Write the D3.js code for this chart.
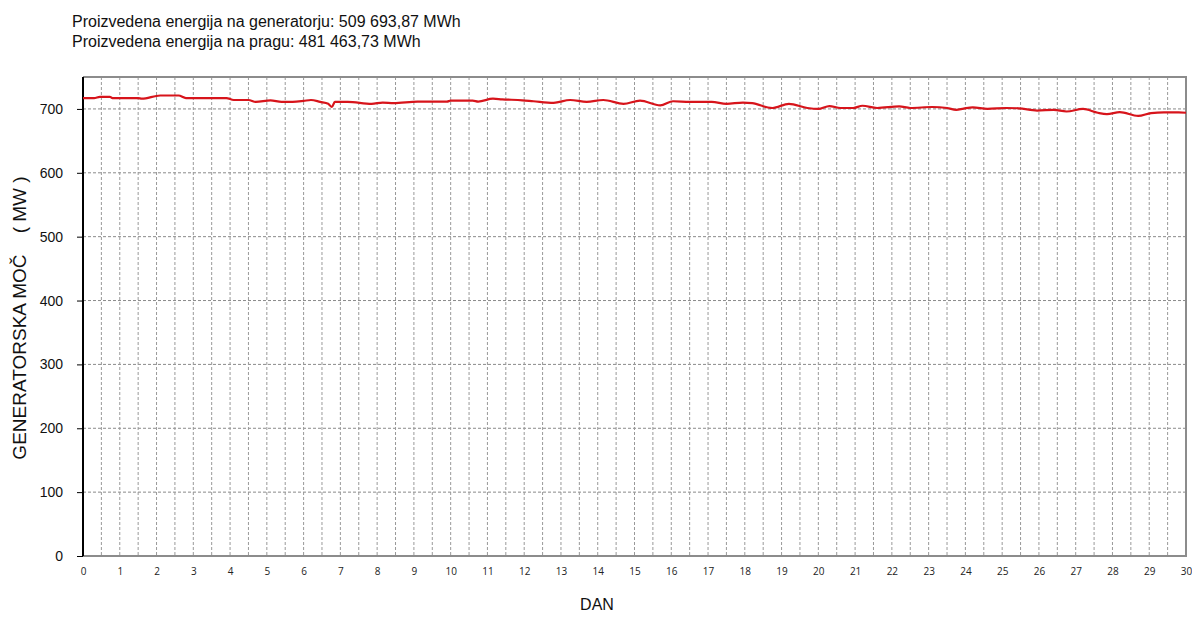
<!DOCTYPE html>
<html>
<head>
<meta charset="utf-8">
<script src="https://cdn.jsdelivr.net/npm/d3@7"></script>
<style>
  body { margin: 0; background: #fff; }
  svg { display: block; }
</style>
</head>
<body>
<svg id="chart" width="1192" height="639"></svg>
<script>
// Title lines
const titleLines = [
  'Proizvedena energija na generatorju: 509 693,87 MWh',
  'Proizvedena energija na pragu: 481 463,73 MWh'
]

// Generator power over the month (day, MW)
const days = [
  0, 0.3, 0.46, 0.73, 0.8, 1.5, 1.6, 2.1, 2.6, 2.8, 3.9, 4.1, 4.5, 4.7, 5.1, 5.4, 5.7, 6.0,
  6.2, 6.45, 6.67, 6.77, 6.85, 7.0, 7.2, 7.85, 8.15, 8.45, 9.1, 9.9, 10.0, 10.6, 10.75,
  11.15, 11.4, 11.95, 12.25, 12.8, 13.25, 13.7, 14.15, 14.7, 15.15, 15.7, 16.05, 16.5,
  17.1, 17.5, 17.95, 18.2, 18.75, 19.2, 19.7, 20.0, 20.3, 20.6, 20.95, 21.2, 21.6, 22.2,
  22.5, 23.1, 23.5, 23.75, 23.95, 24.2, 24.6, 25.1, 25.45, 25.95, 26.4, 26.75, 27.2,
  27.6, 27.85, 28.2, 28.7, 29.05, 29.4, 29.8, 30
]
const power = [
  717, 717, 719, 719, 717, 717, 716, 721, 721, 717, 717, 714, 714, 711, 713.5, 711, 711, 712.5,
  714, 711, 708, 703, 711, 711, 711, 708, 710, 709, 711.5, 711.5, 713, 713, 711.5,
  716, 715, 713.5, 712, 709.5, 714, 711, 714, 708, 713, 705.5, 712, 711,
  711, 708, 710, 709, 701.5, 708, 701.5, 700, 704.5, 701.5, 701.5, 705, 701.5, 704,
  701.5, 703, 701.5, 698.5, 700.5, 702.5, 700, 701.5, 701, 697.5, 698.5, 696, 700,
  694, 692, 695, 689, 693.5, 694.5, 694.5, 694
]

const yTicks = [0, 100, 200, 300, 400, 500, 600, 700]
const xTicks = d3.range(0, 31)
const xGrid = d3.range(0.5, 30.5, 0.5)

const svg = d3.select('#chart')
const margin = { left: 83, right: 6, top: 77, bottom: 83 }
const width = 1192, height = 639

const x = d3.scaleLinear().domain([0, 30]).range([margin.left, width - margin.right])
const y = d3.scaleLinear().domain([0, 750]).range([height - margin.bottom, margin.top])

// ------------------
// Title
// ------------------
svg.selectAll('text.title')
  .data(titleLines)
  .enter()
  .append('text')
  .attr('class', 'title')
  .attr('x', 72)
  .attr('y', (d, i) => 27 + i * 20)
  .attr('font-family', 'Liberation Sans, Arial, sans-serif')
  .attr('font-size', 16)
  .attr('fill', '#111')
  .text(d => d)

// ------------------
// Grid
// ------------------
const grid = svg.append('g')
grid.selectAll('line.h')
  .data(yTicks.filter(d => d > 0))
  .enter()
  .append('line')
  .attr('x1', x(0)).attr('x2', x(30))
  .attr('y1', d => y(d)).attr('y2', d => y(d))
  .attr('stroke', '#8a8a8a')
  .attr('stroke-width', 1)
  .attr('stroke-dasharray', '3,2')

grid.selectAll('line.v')
  .data(xGrid)
  .enter()
  .append('line')
  .attr('x1', d => x(d)).attr('x2', d => x(d))
  .attr('y1', y(750)).attr('y2', y(0))
  .attr('stroke', '#999')
  .attr('stroke-width', 1)
  .attr('stroke-dasharray', '3,2')

// frame: gray top, right, bottom
svg.append('path')
  .attr('d', `M${x(0)},${y(750)}H${x(30)}V${y(0)}H${x(0)}`)
  .attr('fill', 'none')
  .attr('stroke', '#8c8c8c')
  .attr('stroke-width', 2)

// ------------------
// Axes
// ------------------
const yAxis = svg.append('g')
  .attr('transform', `translate(${x(0)},0)`)
  .call(d3.axisLeft(y).tickValues(yTicks).tickSize(6).tickPadding(14))
yAxis.select('.domain').attr('stroke', '#000').attr('stroke-width', 2)
  .attr('d', `M0,${y(750)}V${y(0)}`)
yAxis.selectAll('.tick line').attr('stroke', '#000')
yAxis.selectAll('.tick text')
  .attr('font-family', 'Liberation Sans, Arial, sans-serif')
  .attr('font-size', 14)
  .attr('fill', '#111')

const xAxis = svg.append('g')
  .attr('transform', `translate(0,${y(0)})`)
  .call(d3.axisBottom(x).tickValues(xTicks).tickSize(0).tickPadding(12).tickFormat(d3.format('d')))
xAxis.select('.domain').remove()
xAxis.selectAll('.tick text')
  .attr('font-family', 'Open Sans, DejaVu Sans, sans-serif')
  .attr('font-size', 10)
  .attr('fill', '#222')

// axis titles
svg.append('text')
  .attr('transform', `translate(26,318) rotate(-90)`)
  .attr('text-anchor', 'middle')
  .attr('font-family', 'Liberation Sans, Arial, sans-serif')
  .attr('font-size', 19)
  .attr('fill', '#111')
  .attr('xml:space', 'preserve')
  .text('GENERATORSKA MOČ    ( MW )')

svg.append('text')
  .attr('x', 597)
  .attr('y', 610)
  .attr('text-anchor', 'middle')
  .attr('font-family', 'Liberation Sans, Arial, sans-serif')
  .attr('font-size', 16)
  .attr('fill', '#111')
  .text('DAN')

// ------------------
// Line
// ------------------
const pts = days.map((d, i) => [d, power[i]])
const line = d3.line()
  .x(d => x(d[0]))
  .y(d => y(d[1]))
  .curve(d3.curveMonotoneX)

svg.append('path')
  .datum(pts)
  .attr('d', line)
  .attr('fill', 'none')
  .attr('stroke', '#d7141b')
  .attr('stroke-width', 2.2)
  .attr('stroke-linejoin', 'round')
</script>
</body>
</html>
